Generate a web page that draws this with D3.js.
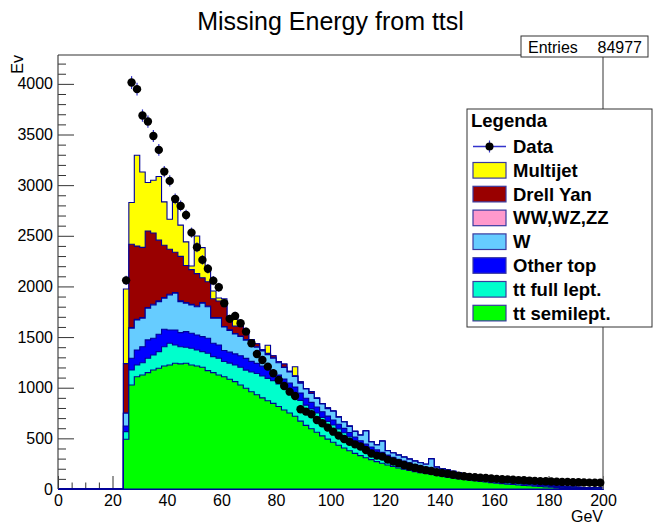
<!DOCTYPE html>
<html><head><meta charset="utf-8">
<script src="https://cdn.jsdelivr.net/npm/d3@7"></script>
<style>
body{margin:0;background:#fff}
svg{display:block}
text{font-family:"Liberation Sans",Arial,Helvetica,sans-serif;fill:#000}
</style>
</head><body>
<svg id="c" width="661" height="526"></svg>
<script>
// ---- data (bins of 2 GeV, lower edges) ----
const binLow = [24,26,28,30,32,34,36,38,40,42,44,46,48,50,52,54,56,58,60,62,64,66,68,70,72,74,76,78,80,82,84,86,88,90,92,94,96,98,100,102,104,106,108,110,112,114,116,118,120,122,124,126,128,130,132,134,136,138,140,142,144,146,148,150,152,154,156,158,160,162,164,166,168,170,172,174,176,178,180,182,184,186,188,190,192,194,196,198];
const binWidth = 2;
const ttSemi = [491,1027,1109,1126,1149,1175,1192,1215,1225,1241,
1235,1241,1225,1215,1202,1169,1149,1126,1109,1083,
1060,1027,994,960,930,900,872,845,815,780,
750,718,670,628,595,560,525,492,462,432,
405,378,352,330,308,290,270,254,237,222,
208,196,184,172,162,153,145,135,126,117,
109,101,94,87,81,75,69,63,58,53,
48,44,40,36,32,28,25,21,17,14,
11,9,7,6,5,4,3,3];
const ttFull = [75,148,116,121,142,148,164,190,214,181,
170,158,164,158,154,171,158,165,150,160,
165,175,180,195,210,215,220,225,222,220,
215,212,205,200,196,190,182,176,170,162,
150,138,120,108,100,92,86,80,72,66,
62,58,54,50,47,44,40,38,35,33,
30,28,26,24,22,20,19,17,16,15,
14,13,12,11,10,9,8,8,7,6,
6,5,5,4,4,3,3,3];
const otherTop = [56,116,148,158,181,165,172,172,131,148,
139,155,149,148,148,148,132,131,109,108,
109,114,116,105,100,98,95,92,88,85,
80,76,72,68,64,60,55,52,50,46,
44,42,40,38,35,32,30,28,26,25,
23,22,20,19,18,17,16,15,14,13,
12,12,11,10,10,9,9,8,8,7,
7,6,6,6,5,5,5,4,4,4,
3,3,3,3,2,2,2,2];
const wJets = [126,296,296,281,313,329,322,306,346,363,
306,280,279,279,330,312,247,264,231,215,
197,190,180,170,160,150,140,130,122,115,
110,105,98,92,88,84,78,74,85,68,
64,60,56,54,130,50,48,110,44,42,
40,38,36,34,32,30,95,27,25,24,
22,21,20,19,18,17,16,15,14,13,
12,11,10,10,9,25,8,7,7,6,
6,5,5,4,4,4,3,3];
const diboson = [3,6,6,6,7,7,7,7,7,7,
7,7,6,6,6,6,6,6,5,5,
5,5,5,5,4,4,4,4,4,4,
3,3,3,3,3,3,3,2,2,2,
2,2,2,2,2,2,2,1,1,1,
1,1,1,1,1,1,1,1,1,1,
1,1,1,1,1,0,0,0,0,0,
0,0,0,0,0,0,0,0,0,0,
0,0,0,0,0,0,0,0];
const drellYan = [487,823,723,694,755,703,600,517,444,397,
440,366,343,320,246,240,187,164,213,131,
72,98,60,40,30,10,8,20,5,30,
5,3,10,2,15,2,0,5,0,3,
0,2,0,0,0,0,0,0,0,0,
0,0,0,0,0,0,0,0,0,0,
0,0,0,0,0,0,0,0,0,0,
0,0,0,0,0,0,0,0,0,0,
0,0,0,0,0,0,0,0];
const multijet = [737,412,897,744,479,522,629,428,297,498,
308,233,36,372,297,140,76,30,60,0,
109,0,25,0,0,0,80,0,0,0,
0,90,0,0,0,0,0,0,0,0,
0,0,0,0,0,0,0,0,0,0,
0,0,0,0,0,0,0,0,0,0,
0,0,0,0,0,0,0,0,0,0,
0,0,0,0,0,0,0,0,0,0,
0,0,0,0,0,0,0,0];
const dataCounts = [2060,4013,3948,3687,3628,3486,3348,3134,3042,2864,
2795,2706,2531,2387,2262,2175,2057,1992,1834,1680,
1709,1636,1554,1439,1333,1274,1208,1143,1077,1017,
961,918,787,764,738,681,649,606,566,527,
494,467,441,420,385,350,330,320,290,272,
255,237,222,210,198,186,178,166,158,150,
140,132,126,120,116,112,108,104,100,97,
95,92,88,86,83,80,78,76,74,72,
70,69,67,66,64,63,62,61];

const seriesKeys   = ["semi","full","other","w","ww","dy","mj"];
const seriesLabels = ["tt semilept.","tt full lept.","Other top","W","WW,WZ,ZZ","Drell Yan","Multijet"];
const seriesColors = ["#00ff00","#00ffcc","#0000ff","#66ccff","#ff99cc","#990000","#ffff00"];
const xMajorTicks = [0,20,40,60,80,100,120,140,160,180,200];
const yMajorTicks = [0,500,1000,1500,2000,2500,3000,3500,4000];
const titleText = "Missing Energy from ttsl";
const entriesText = "84977";
const xDomain = [0,200];
const yDomain = [0,4285];

// ---- layout ----
const svg = d3.select("#c");
const L = 58, R = 603, T = 55, B = 489;
const x = d3.scaleLinear().domain(xDomain).range([L,R]);
const y = d3.scaleLinear().domain(yDomain).range([B,T]);
const lineCol = "#000099";

// title
svg.append("text").attr("x",330.5).attr("y",30).attr("text-anchor","middle")
  .style("font-size","25px").text(titleText);

// minor + major ticks (inside frame)
const yMinor = d3.range(0, yDomain[1], 100).filter(v => v % 500 !== 0);
const xMinor = d3.range(0, 201, 5).filter(v => v % 20 !== 0);

const gyMinor = svg.append("g").attr("transform",`translate(${L},0)`)
  .call(d3.axisLeft(y).tickValues(yMinor).tickSize(-8).tickFormat(""));
const gy = svg.append("g").attr("transform",`translate(${L},0)`)
  .call(d3.axisLeft(y).tickValues(yMajorTicks).tickSize(-16).tickPadding(5).tickFormat(d3.format("d")));
const gxMinor = svg.append("g").attr("transform",`translate(0,${B})`)
  .call(d3.axisBottom(x).tickValues(xMinor).tickSize(-6.5).tickFormat(""));
const gx = svg.append("g").attr("transform",`translate(0,${B})`)
  .call(d3.axisBottom(x).tickValues(xMajorTicks).tickSize(-13).tickPadding(6).tickFormat(d3.format("d")));
[gyMinor,gy,gxMinor,gx].forEach(g => {
  g.select(".domain").remove();
  g.selectAll(".tick line").attr("stroke","#333").attr("stroke-width",1);
  g.selectAll("text").style("font-size","16px").attr("fill","#000").style("font-family","'Liberation Sans',Arial,sans-serif");
});
gx.selectAll(".tick text").attr("y",6).attr("dy","0.71em");

// stack
const rows = binLow.map((b,i) => ({x:b, semi:ttSemi[i], full:ttFull[i], other:otherTop[i], w:wJets[i], ww:diboson[i], dy:drellYan[i], mj:multijet[i]}));
const stacked = d3.stack().keys(seriesKeys)(rows);
const area = d3.area().curve(d3.curveStepAfter)
  .x(p => x(p.x)).y0(y(0)).y1(p => y(p.v));

const gh = svg.append("g");
for (let k = stacked.length - 1; k >= 0; k--) {
  const layer = stacked[k];
  const pts = [{x:xDomain[0], v:0}];
  layer.forEach((s,i) => pts.push({x:binLow[i], v:s[1]}));
  pts.push({x:xDomain[1], v:layer[layer.length-1][1]});
  gh.append("path").attr("d", area(pts))
    .attr("fill", seriesColors[k]).attr("stroke", lineCol).attr("stroke-width",1.1)
    .attr("stroke-linejoin","miter");
}

// frame lines
svg.append("line").attr("x1",L).attr("x2",L).attr("y1",T).attr("y2",B).attr("stroke","#444").attr("stroke-width",1.2);
svg.append("line").attr("x1",L).attr("x2",R).attr("y1",T).attr("y2",T).attr("stroke","#333").attr("stroke-width",1.2);
svg.append("line").attr("x1",R).attr("x2",R).attr("y1",T).attr("y2",B).attr("stroke","#777").attr("stroke-width",1.5);

// data points
const gd = svg.append("g");
binLow.forEach((b,i) => {
  const v = dataCounts[i];
  const e = Math.sqrt(v);
  const cx = x(b + binWidth/2);
  gd.append("line").attr("x1",cx).attr("x2",cx).attr("y1",y(v-e)).attr("y2",y(v+e))
    .attr("stroke","#3333cc").attr("stroke-width",1.2);
});
binLow.forEach((b,i) => {
  gd.append("circle").attr("cx",x(b + binWidth/2)).attr("cy",y(dataCounts[i])).attr("r",4.2).attr("fill","#000");
});

// axis titles
svg.append("text").attr("transform",`translate(23,${T}) rotate(-90)`).attr("text-anchor","end")
  .style("font-size","16px").text("Ev");
svg.append("text").attr("x",R).attr("y",522).attr("text-anchor","end")
  .style("font-size","16px").text("GeV");

// stats box
svg.append("rect").attr("x",521).attr("y",36).attr("width",127).attr("height",21)
  .attr("fill","#fff").attr("stroke","#333").attr("stroke-width",1);
svg.append("text").attr("x",528).attr("y",52.5).style("font-size","16px").text("Entries");
svg.append("text").attr("x",642).attr("y",52.5).attr("text-anchor","end").style("font-size","16px").text(entriesText);

// legend
const lg = svg.append("g");
lg.append("rect").attr("x",467).attr("y",109).attr("width",185).attr("height",218)
  .attr("fill","#fff").attr("stroke","#333").attr("stroke-width",1);
lg.append("text").attr("x",471).attr("y",127).style("font-size","18.5px").style("font-weight","bold").text("Legenda");
const rowY0 = 146.5, rowStep = 23.8;
// data entry
lg.append("line").attr("x1",473).attr("x2",506).attr("y1",rowY0).attr("y2",rowY0).attr("stroke","#3333cc").attr("stroke-width",1.3);
lg.append("line").attr("x1",489.5).attr("x2",489.5).attr("y1",rowY0-6).attr("y2",rowY0+6).attr("stroke","#3333cc").attr("stroke-width",1.2);
lg.append("circle").attr("cx",489.5).attr("cy",rowY0).attr("r",4).attr("fill","#000");
lg.append("text").attr("x",513).attr("y",rowY0+6.5).style("font-size","18.5px").style("font-weight","bold").text("Data");
for (let j = 0; j < seriesKeys.length; j++) {
  const k = seriesKeys.length - 1 - j;
  const cy = rowY0 + rowStep*(j+1);
  lg.append("rect").attr("x",473).attr("y",cy-7.8).attr("width",33).attr("height",15.6)
    .attr("fill",seriesColors[k]).attr("stroke","#3a3aa0").attr("stroke-width",1.2);
  lg.append("text").attr("x",513).attr("y",cy+6.5).style("font-size","18.5px").style("font-weight","bold").text(seriesLabels[k]);
}
</script>
</body></html>
